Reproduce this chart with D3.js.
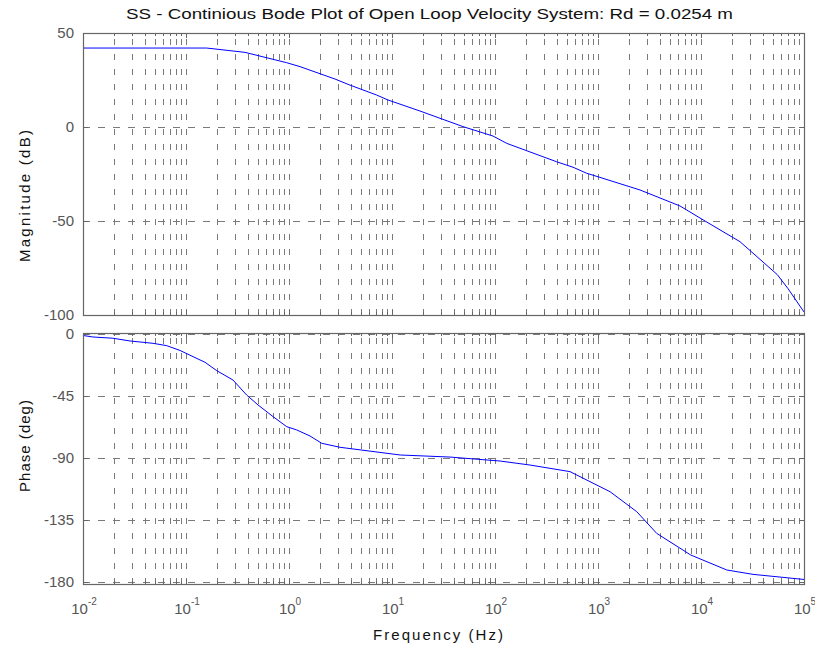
<!DOCTYPE html>
<html>
<head>
<meta charset="utf-8">
<script src="https://cdn.jsdelivr.net/npm/d3@7"></script>
<style>
body { margin: 0; background: #fff; }
text { font-family: "Liberation Sans", Arial, sans-serif; }
</style>
</head>
<body>
<svg id="chart" width="815" height="650"></svg>
<script>
// values
var magFreq = [0.01, 0.159, 0.374, 0.95, 1.28, 2.8, 3.9, 7.1, 9.1, 18.7, 48.9, 95.5, 130, 292, 397, 572, 776, 1045, 2557, 6250, 10940, 23900, 35000, 55000, 70000, 100000];
var magDb = [42, 42, 39.7, 34.2, 32.1, 25.5, 22.3, 17.0, 14.4, 8.5, 0.2, -4.8, -8.7, -15.8, -18.5, -21.4, -24.6, -26.8, -33.5, -42, -50, -61, -69, -78.5, -86, -98.4];

var phaseFreq = [0.01, 0.0125, 0.0195, 0.0286, 0.0479, 0.065, 0.0875, 0.117, 0.153, 0.199, 0.286, 0.388, 0.5, 0.7, 0.95, 1.19, 1.6, 2.08, 3.13, 12, 36.6, 112, 219, 535, 1309, 2377, 3715, 7943, 17780, 32000, 100000];
var phaseDeg = [-1.1, -2.2, -3.1, -5.1, -6.8, -8.5, -12.0, -16.5, -20.6, -26.7, -33.5, -44.4, -51.6, -60.1, -67.4, -69.8, -74.2, -79.5, -82.4, -88.0, -89.5, -92.4, -95.3, -100.1, -114.7, -129.2, -145, -160.7, -171.6, -174.8, -178.5];

var magTicks = [50, 0, -50, -100];
var phaseTicks = [0, -45, -90, -135, -180];
var decades = [-2, -1, 0, 1, 2, 3, 4, 5];

var titleText = "SS - Continious Bode Plot of Open Loop Velocity System: Rd = 0.0254 m";

var axisColor = "#666666";
var gridColor = "#7a7a7a";
var labelColor = "#555555";

var left = 83, right = 804;

var svg = d3.select("#chart");

var x = d3.scaleLog().domain([1e-2, 1e5]).range([left, right]);

var yMag = d3.scaleLinear().domain([-100, 50]).range([315, 33]);
var yPhase = d3.scaleLinear().domain([-181.8, 0.7]).range([584, 333]);

// every 1..9 x 10^k position, used for the vertical grid and small ticks
function gridValues()
{
    var vals = [];
    for (var e = -2; e < 5; e++) {
        for (var m = 1; m < 10; m++) {
            vals.push(m * Math.pow(10, e));
        }
    }
    vals.push(1e5);
    return vals;
}

function drawPanel(y, ticks, freq, vals)
{
    var top = y.range()[1], bottom = y.range()[0];
    var g = svg.append("g");
    var xs = gridValues();

    // vertical grid
    g.append("g").selectAll("line")
        .data(xs)
        .enter().append("line")
        .attr("x1", d => Math.round(x(d)) + 0.5).attr("x2", d => Math.round(x(d)) + 0.5)
        .attr("y1", bottom).attr("y2", top)
        .attr("stroke", gridColor)
        .attr("stroke-width", 1)
        .attr("stroke-dasharray", "6,9");

    // horizontal grid
    g.append("g").selectAll("line")
        .data(ticks)
        .enter().append("line")
        .attr("x1", left).attr("x2", right)
        .attr("y1", d => Math.round(y(d)) + 0.5).attr("y2", d => Math.round(y(d)) + 0.5)
        .attr("stroke", gridColor)
        .attr("stroke-width", 1)
        .attr("stroke-dasharray", "7,8");

    // small inward ticks on top and bottom edges
    var isMajor = d => Math.abs(Math.log10(d) - Math.round(Math.log10(d))) < 1e-6;
    g.append("g").selectAll("line")
        .data(xs)
        .enter().append("line")
        .attr("x1", d => Math.round(x(d)) + 0.5).attr("x2", d => Math.round(x(d)) + 0.5)
        .attr("y1", top).attr("y2", d => top + (isMajor(d) ? 5 : 3))
        .attr("stroke", axisColor);
    g.append("g").selectAll("line")
        .data(xs)
        .enter().append("line")
        .attr("x1", d => Math.round(x(d)) + 0.5).attr("x2", d => Math.round(x(d)) + 0.5)
        .attr("y1", bottom).attr("y2", d => bottom - (isMajor(d) ? 5 : 3))
        .attr("stroke", axisColor);

    // y ticks on both sides
    g.append("g").selectAll("line")
        .data(ticks)
        .enter().append("line")
        .attr("x1", left).attr("x2", left + 5)
        .attr("y1", d => Math.round(y(d)) + 0.5).attr("y2", d => Math.round(y(d)) + 0.5)
        .attr("stroke", axisColor);
    g.append("g").selectAll("line")
        .data(ticks)
        .enter().append("line")
        .attr("x1", right).attr("x2", right - 5)
        .attr("y1", d => Math.round(y(d)) + 0.5).attr("y2", d => Math.round(y(d)) + 0.5)
        .attr("stroke", axisColor);

    // y tick labels
    g.append("g").selectAll("text")
        .data(ticks)
        .enter().append("text")
        .attr("x", 74)
        .attr("y", d => y(d))
        .attr("dy", "0.36em")
        .attr("text-anchor", "end")
        .attr("font-size", 15)
        .attr("fill", labelColor)
        .text(d => d);

    // the curve
    var line = d3.line()
        .x(d => x(d[0]))
        .y(d => y(d[1]));

    g.append("path")
        .datum(freq.map((f, i) => [f, vals[i]]))
        .attr("fill", "none")
        .attr("stroke", "#0000ff")
        .attr("stroke-width", 1)
        .attr("d", line);

    // box
    g.append("rect")
        .attr("x", left + 0.5).attr("y", top + 0.5)
        .attr("width", right - left).attr("height", bottom - top)
        .attr("fill", "none")
        .attr("stroke", axisColor)
        .attr("stroke-width", 1.2);
}

drawPanel(yMag, magTicks, magFreq, magDb);
drawPanel(yPhase, phaseTicks, phaseFreq, phaseDeg);

// x tick labels as 10^k
var xl = svg.append("g").selectAll("text")
    .data(decades)
    .enter().append("text")
    .attr("x", d => x(Math.pow(10, d)) + 1)
    .attr("y", 614)
    .attr("text-anchor", "middle")
    .attr("font-size", 15)
    .attr("fill", labelColor);
xl.append("tspan").text("10");
xl.append("tspan").attr("dy", -9).attr("font-size", 10).text(d => d);

// title and axis labels
svg.append("text")
    .attr("x", 429.5).attr("y", 19)
    .attr("text-anchor", "middle")
    .attr("font-size", 15)
    .attr("textLength", 607)
    .attr("lengthAdjust", "spacingAndGlyphs")
    .attr("fill", "#111")
    .text(titleText);

svg.append("text")
    .attr("x", 438).attr("y", 640)
    .attr("text-anchor", "middle")
    .attr("font-size", 15)
    .attr("textLength", 130)
    .attr("lengthAdjust", "spacing")
    .attr("fill", "#111")
    .text("Frequency (Hz)");

svg.append("text")
    .attr("transform", "translate(30,196) rotate(-90)")
    .attr("text-anchor", "middle")
    .attr("font-size", 15)
    .attr("textLength", 132)
    .attr("lengthAdjust", "spacing")
    .attr("fill", "#111")
    .text("Magnitude (dB)");

svg.append("text")
    .attr("transform", "translate(30,446) rotate(-90)")
    .attr("text-anchor", "middle")
    .attr("font-size", 15)
    .attr("textLength", 92)
    .attr("lengthAdjust", "spacing")
    .attr("fill", "#111")
    .text("Phase (deg)");
</script>
</body>
</html>
